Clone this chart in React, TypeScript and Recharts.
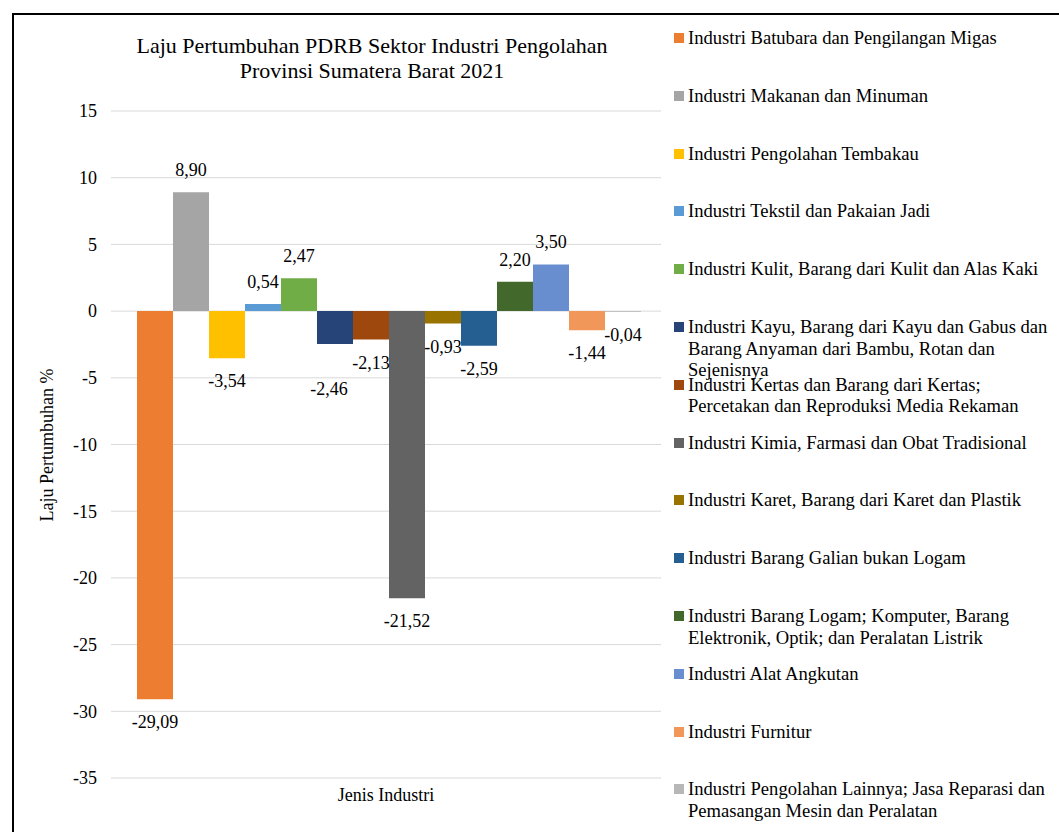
import * as React from 'react';
import {
  BarChart,
  Bar,
  XAxis,
  YAxis,
  CartesianGrid,
  Legend,
  LabelList,
} from 'recharts';

const categories = ['Jenis Industri'];

const seriesNames = [
  'Industri Batubara dan Pengilangan Migas',
  'Industri Makanan dan Minuman',
  'Industri Pengolahan Tembakau',
  'Industri Tekstil dan Pakaian Jadi',
  'Industri Kulit, Barang dari Kulit dan Alas Kaki',
  'Industri Kayu, Barang dari Kayu dan Gabus dan Barang Anyaman dari Bambu, Rotan dan Sejenisnya',
  'Industri Kertas dan Barang dari Kertas; Percetakan dan Reproduksi Media Rekaman',
  'Industri Kimia, Farmasi dan Obat Tradisional',
  'Industri Karet, Barang dari Karet dan Plastik',
  'Industri Barang Galian bukan Logam',
  'Industri Barang Logam; Komputer, Barang Elektronik, Optik; dan Peralatan Listrik',
  'Industri Alat Angkutan',
  'Industri Furnitur',
  'Industri Pengolahan Lainnya; Jasa Reparasi dan Pemasangan Mesin dan Peralatan',
];

const growthValues = [
  -29.09, 8.9, -3.54, 0.54, 2.47, -2.46, -2.13, -21.52, -0.93, -2.59, 2.2, 3.5, -1.44, -0.04,
];

const seriesColors = [
  '#ED7D31', // orange
  '#A5A5A5', // gray
  '#FFC000', // gold
  '#5B9BD5', // blue
  '#70AD47', // green
  '#264478', // navy
  '#9E480E', // brown
  '#636363', // dark gray
  '#997300', // dark gold
  '#255E91', // steel blue
  '#43682B', // dark green
  '#698ED0', // light blue
  '#F1975A', // peach
  '#B7B7B7', // light gray
];

const yTicks = [-35, -30, -25, -20, -15, -10, -5, 0, 5, 10, 15];

const FONT = '"Liberation Serif", "Times New Roman", serif';

// Excel pushed this label down so it doesn't collide with its neighbour
const labelNudge: Record<number, { dx: number; dy: number }> = {
  5: { dx: -6, dy: 22 },
};

const chartData = categories.map((name) => {
  const row: Record<string, number | string> = { name };
  growthValues.forEach((v, i) => {
    row[`s${i}`] = v;
  });
  return row;
});

const fmt = (v: number) => v.toFixed(2).replace('.', ',');

const makeLabel = (seriesIndex: number) => (props: any) => {
  const { x, y, width, height, value } = props;
  const v = Number(value);
  const top = Math.min(y, y + height);
  const bottom = Math.max(y, y + height);
  const nudge = labelNudge[seriesIndex] || { dx: 0, dy: 0 };
  const cy = (v >= 0 ? top - 22 : bottom + 23) + nudge.dy;
  return (
    <text
      x={x + width / 2 + nudge.dx}
      y={cy}
      textAnchor="middle"
      dominantBaseline="central"
      fontSize={18}
      fontFamily={FONT}
      fill="#000"
    >
      {fmt(v)}
    </text>
  );
};

const seriesOrder = (entry: any) => Number(String(entry.dataKey).slice(1));

const renderLegend = (props: any) => {
  const payload = [...(props.payload || [])].sort((a, b) => seriesOrder(a) - seriesOrder(b));
  return (
    <div style={{ position: 'relative', fontFamily: FONT }}>
      {payload.map((entry: any, i: number) => (
        <div
          key={entry.value}
          style={{ position: 'absolute', left: 0, top: i * 57.8, display: 'flex', alignItems: 'flex-start' }}
        >
          <span
            style={{
              width: 10,
              height: 10,
              marginTop: 6,
              marginRight: 4,
              background: entry.color,
              flexShrink: 0,
            }}
          />
          <span style={{ width: 368, fontSize: 18.6, lineHeight: '21.5px', color: '#000' }}>
            {entry.value}
          </span>
        </div>
      ))}
    </div>
  );
};

export default function App() {
  return (
    <div
      style={{
        position: 'absolute',
        left: 0,
        top: 0,
        width: 1059,
        height: 832,
        overflow: 'hidden',
        background: '#fff',
        fontFamily: FONT,
      }}
    >
      <div
        style={{
          position: 'absolute',
          left: 12,
          top: 13,
          width: 1100,
          height: 900,
          border: '2px solid #000',
          boxSizing: 'border-box',
        }}
      />
      <div
        style={{
          position: 'absolute',
          left: 122,
          top: 33,
          width: 500,
          textAlign: 'center',
          fontSize: 22,
          lineHeight: '25px',
          color: '#000',
        }}
      >
        Laju Pertumbuhan PDRB Sektor Industri Pengolahan
        <br />
        Provinsi Sumatera Barat 2021
      </div>
      <div
        style={{
          position: 'absolute',
          left: 47 - 100,
          top: 445 - 11,
          width: 200,
          height: 22,
          lineHeight: '22px',
          textAlign: 'center',
          fontSize: 18,
          color: '#000',
          transform: 'rotate(-90deg)',
        }}
      >
        Laju Pertumbuhan %
      </div>
      <div style={{ position: 'absolute', left: 0, top: 0 }}>
        <BarChart
          width={1059}
          height={832}
          data={chartData}
          margin={{ top: 111, right: 398, left: 0, bottom: 24 }}
          barCategoryGap={26}
          barGap={0}
        >
          <CartesianGrid vertical={false} stroke="#d9d9d9" />
          <XAxis
            dataKey="name"
            axisLine={false}
            tickLine={false}
            tickSize={0}
            tickMargin={10}
            height={30}
            tick={{ fontSize: 18, fill: '#000', fontFamily: FONT }}
          />
          <YAxis
            type="number"
            domain={[-35, 15]}
            ticks={yTicks}
            interval={0}
            width={111}
            axisLine={false}
            tickLine={false}
            tickSize={0}
            tickMargin={14}
            tick={{ fontSize: 18, fill: '#000', fontFamily: FONT }}
          />
          <Legend
            layout="vertical"
            align="center"
            verticalAlign="middle"
            content={renderLegend}
            wrapperStyle={{ left: 674, top: 27, width: 385, height: 805 }}
          />
          {seriesNames.map((name, i) => (
            <Bar
              key={name}
              dataKey={`s${i}`}
              name={name}
              fill={seriesColors[i]}
              isAnimationActive={false}
            >
              <LabelList dataKey={`s${i}`} content={makeLabel(i)} />
            </Bar>
          ))}
        </BarChart>
      </div>
    </div>
  );
}
